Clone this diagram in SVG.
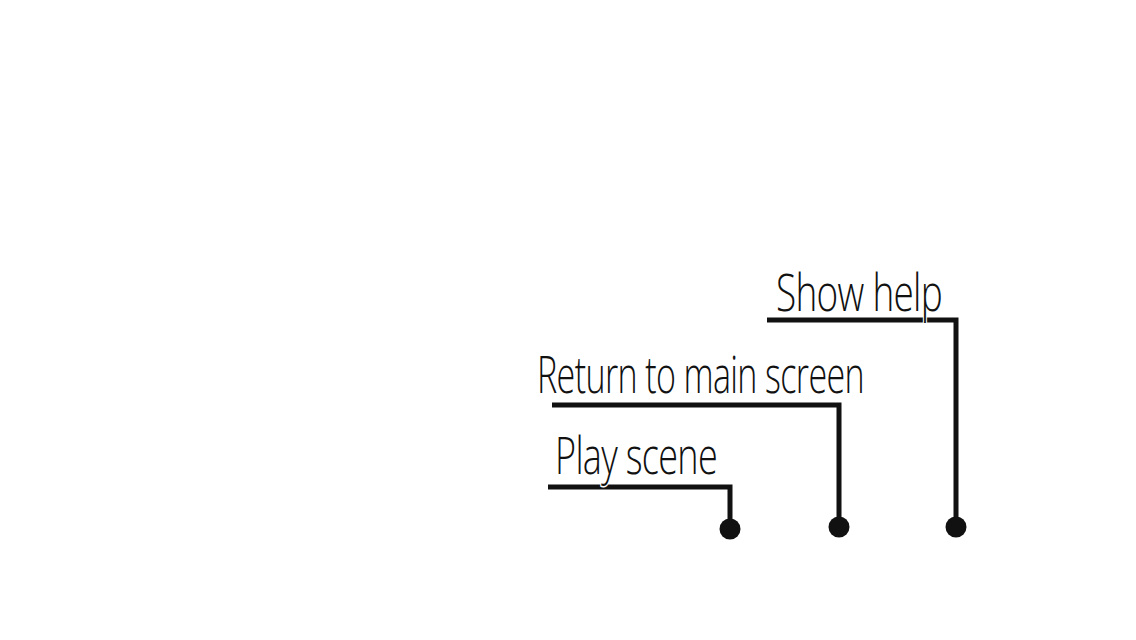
<svg xmlns="http://www.w3.org/2000/svg" width="1136" height="640" viewBox="0 0 1136 640">
<style>
.lbl{font-family:"Open Sans","Liberation Sans",sans-serif;font-weight:300;font-size:52px;fill:#111;stroke:#fff;stroke-width:3;paint-order:stroke;letter-spacing:-1px}
.ln{fill:none;stroke:#111;stroke-width:5}
.dot{fill:#111}
</style>
<rect width="1136" height="640" fill="#fff"/>
<g id="connectors">
<path class="ln" d="M767,320 H956 V527"/>
<path class="ln" d="M552,405 H839 V527"/>
<path class="ln" d="M548,487 H730 V528"/>
</g>
<g id="node-help">
<text class="lbl" x="776" y="311" textLength="166" lengthAdjust="spacingAndGlyphs">Show help</text>
<circle class="dot" cx="956" cy="527" r="10.5"/>
</g>
<g id="node-return">
<text class="lbl" x="537" y="393" textLength="327" lengthAdjust="spacingAndGlyphs">Return to main screen</text>
<circle class="dot" cx="839" cy="527" r="10.5"/>
</g>
<g id="node-play">
<text class="lbl" x="555" y="474" textLength="162" lengthAdjust="spacingAndGlyphs">Play scene</text>
<circle class="dot" cx="730" cy="529" r="10.5"/>
</g>
</svg>
